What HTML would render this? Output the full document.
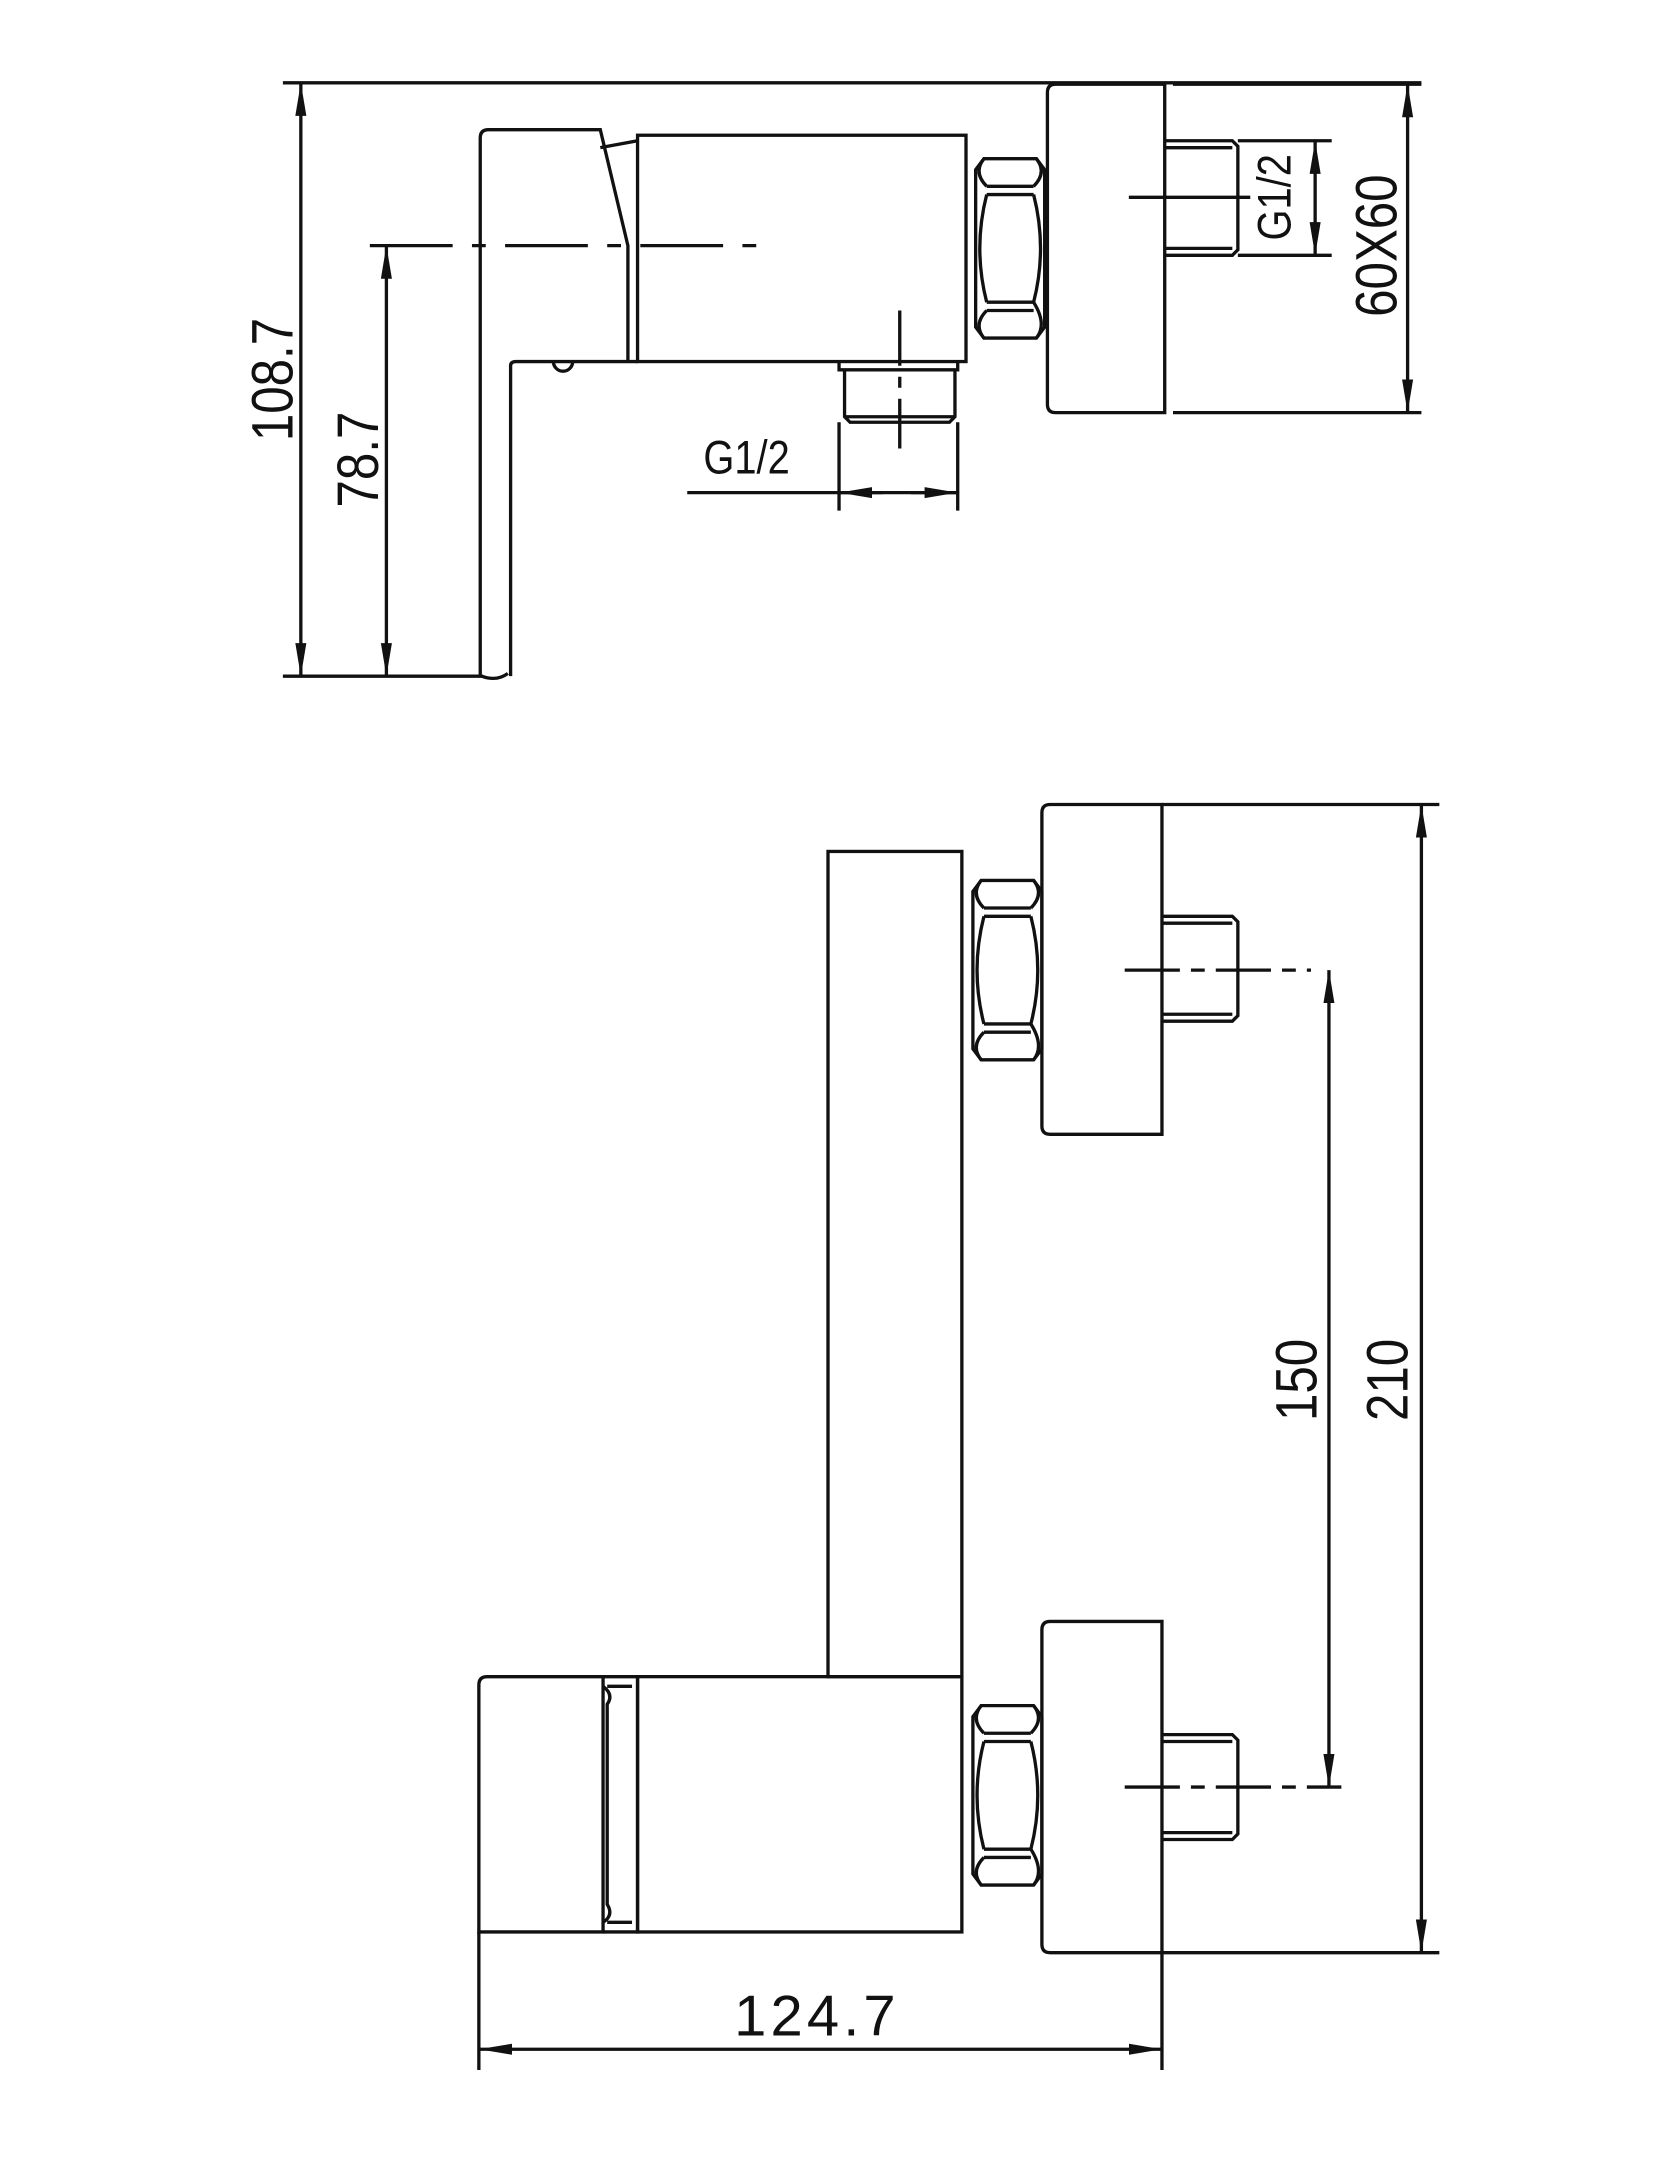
<!DOCTYPE html>
<html><head><meta charset="utf-8"><style>html,body{margin:0;padding:0;background:#fff}svg{display:block}</style></head>
<body>
<svg width="1656" height="2166" viewBox="0 0 1200 1569.6" preserveAspectRatio="none" xmlns="http://www.w3.org/2000/svg">
<defs>
<marker id="a" viewBox="0 0 24 10" refX="24" refY="5" markerWidth="24" markerHeight="10" markerUnits="userSpaceOnUse" orient="auto-start-reverse"><path d="M0,1 L24,5 L0,9 Z" fill="#111"/></marker>
<g id="nut" fill="none" stroke="#111" stroke-width="2.4">
<path d="M6,0 L44,0 L50,8 L50,122 L44,130 L6,130 L0,122 L0,8 Z"/>
<path d="M8,20 L42,20 M8,26 L42,26 M8,104 L42,104 M8,110 L42,110"/>
<path d="M6,0 Q-2,10 8,20 M44,0 Q52,10 42,20 M6,130 Q-2,120 8,110 M44,130 Q52,120 42,104"/>
<path d="M8,26 Q-2,65 8,104 M42,26 Q52,65 42,104"/>
</g>
</defs>
<g fill="none" stroke="#111" stroke-width="2.4">
<line x1="205" y1="60" x2="1030" y2="60"/>
<line x1="218" y1="60" x2="218" y2="490" marker-start="url(#a)" marker-end="url(#a)"/>
<line x1="205" y1="490" x2="350" y2="490"/>
<line x1="280" y1="178" x2="280" y2="490" marker-start="url(#a)" marker-end="url(#a)"/>
<line x1="268" y1="178" x2="560" y2="178" stroke-dasharray="60,14,10,14"/>
<path d="M348,490 L348,100 Q348,94 354,94 L435,94 L455,178 L455,262 M370,490 L370,265 Q370,262 374,262 L462,262"/>
<path d="M435,107 L462,102"/>
<path d="M401,262 A7,7 0 0 0 415,262"/>
<path d="M349,490 Q360,494 368,488"/>
<rect x="462" y="98" width="238" height="164"/>
<use href="#nut" x="707" y="115"/>
<path d="M844,61 L765,61 Q759,61 759,67 L759,293 Q759,299 765,299 L844,299 Z"/>
<path d="M844,102 L893,102 L897,106 L897,181 L893,185 L844,185 M844,107 L893,107 M844,180 L893,180"/>
<line x1="818" y1="143" x2="906" y2="143"/>
<line x1="897" y1="102" x2="965" y2="102"/>
<line x1="897" y1="185" x2="965" y2="185"/>
<line x1="953" y1="102" x2="953" y2="185" marker-start="url(#a)" marker-end="url(#a)"/>
<line x1="850" y1="61" x2="1030" y2="61"/>
<line x1="850" y1="299" x2="1030" y2="299"/>
<line x1="1020" y1="61" x2="1020" y2="299" marker-start="url(#a)" marker-end="url(#a)"/>
<path d="M608,262 L608,268 L694,268 L694,262 M612,268 L612,302 L616,306 L688,306 L692,302 L692,268 M612,302 L692,302"/>
<line x1="652" y1="225" x2="652" y2="325" stroke-dasharray="40,8,8,8"/>
<line x1="608" y1="306" x2="608" y2="370"/>
<line x1="694" y1="306" x2="694" y2="370"/>
<line x1="498" y1="357" x2="694" y2="357"/>
<line x1="640" y1="357" x2="608" y2="357" marker-end="url(#a)"/>
<line x1="660" y1="357" x2="694" y2="357" marker-end="url(#a)"/>
<rect x="600" y="617" width="97" height="598"/>
<path d="M842,583 L761,583 Q755,583 755,589 L755,816 Q755,822 761,822 L842,822 Z"/>
<use href="#nut" x="705" y="638"/>
<path d="M842,664 L893,664 L897,668 L897,736 L893,740 L842,740 M842,669 L893,669 M842,735 L893,735"/>
<line x1="815" y1="703" x2="950" y2="703" stroke-dasharray="40,8,10,8"/>
<path d="M842,1175 L761,1175 Q755,1175 755,1181 L755,1409 Q755,1415 761,1415 L842,1415 Z"/>
<use href="#nut" x="705" y="1236"/>
<path d="M842,1257 L893,1257 L897,1261 L897,1329 L893,1333 L842,1333 M842,1262 L893,1262 M842,1328 L893,1328"/>
<line x1="815" y1="1295" x2="972" y2="1295" stroke-dasharray="40,8,10,8"/>
<rect x="462" y="1215" width="235" height="185"/>
<path d="M437,1215 L353,1215 Q347,1215 347,1221 L347,1400 L437,1400 Z"/>
<path d="M437,1215 L462,1215 L462,1400 L437,1400 M440,1222 L458,1222 M440,1393 L458,1393 M437,1222 Q445,1228 440,1235 L440,1380 Q445,1388 437,1393"/>
<line x1="963" y1="703" x2="963" y2="1295" marker-start="url(#a)" marker-end="url(#a)"/>
<line x1="842" y1="583" x2="1043" y2="583"/>
<line x1="842" y1="1415" x2="1043" y2="1415"/>
<line x1="1030" y1="583" x2="1030" y2="1415" marker-start="url(#a)" marker-end="url(#a)"/>
<line x1="347" y1="1400" x2="347" y2="1500"/>
<line x1="842" y1="1415" x2="842" y2="1500"/>
<line x1="347" y1="1485" x2="842" y2="1485" marker-start="url(#a)" marker-end="url(#a)"/>
</g>
<g fill="#111" font-family="'Liberation Sans Narrow','Liberation Sans',sans-serif" font-size="42" text-anchor="middle">
<text transform="translate(212,275) rotate(-90) scale(0.85,1)">108.7</text>
<text transform="translate(274,333) rotate(-90) scale(0.85,1)">78.7</text>
<text transform="translate(1012,178) rotate(-90) scale(0.85,1)">60X60</text>
<text transform="translate(935,143) rotate(-90) scale(0.85,1)" font-size="34">G1/2</text>
<text transform="translate(541,343) scale(0.85,1)" font-size="34">G1/2</text>
<text transform="translate(954,1000) rotate(-90) scale(0.85,1)">150</text>
<text transform="translate(1020,1000) rotate(-90) scale(0.85,1)">210</text>
<text x="592" y="1475" letter-spacing="3">124.7</text>
</g>
</svg>
</body></html>
